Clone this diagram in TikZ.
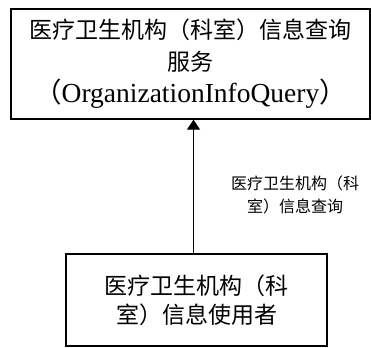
\documentclass[tikz,border=0pt]{standalone}
\usepackage{fontspec}
\setmainfont{Liberation Serif}
\newfontfamily\cjk{Noto Sans CJK SC}
\usetikzlibrary{arrows.meta}
\begin{document}
\begin{tikzpicture}[x=1pt,y=-1pt,
  boxstyle/.style={draw=black,line width=1.4pt,rectangle,inner sep=0pt,align=center},
  conn/.style={line width=1.3pt,-{Triangle[length=10pt,width=13pt]}}]
\useasboundingbox (0,0) rectangle (371,347);
\node[boxstyle,minimum width=359pt,minimum height=110pt,font=\fontsize{23}{32}\selectfont] (top) at (190.5,64)
  {{\cjk 医疗卫生机构（科室）信息查询}\\ {\cjk 服务}\\
   {\fontsize{27.5}{32}\selectfont{\cjk （}OrganizationInfoQuery{\cjk ）}}};
\node[boxstyle,minimum width=261pt,minimum height=92pt,font=\fontsize{23}{29}\selectfont\cjk] (bot) at (196.5,300)
  {医疗卫生机构（科\\ 室）信息使用者};
\coordinate (ax) at (193.5,0);
\draw[conn] (bot.north -| ax) -- (top.south -| ax);
\node[align=center,inner sep=0pt,font=\fontsize{16}{23}\selectfont\cjk] (lbl) at (295,195)
  {医疗卫生机构（科\\ 室）信息查询};
\end{tikzpicture}
\end{document}
